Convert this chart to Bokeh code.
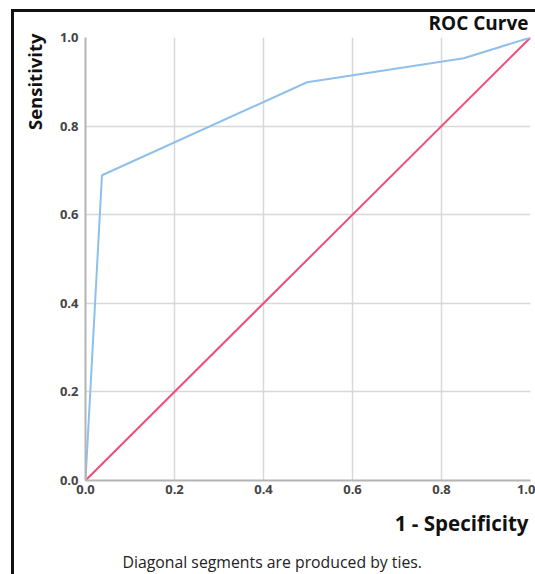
from bokeh.plotting import figure
from bokeh.models import Range1d, FixedTicker, Title, InlineStyleSheet
from bokeh.embed import file_html
from bokeh.resources import INLINE

# data
fpr = [0.0, 0.037, 0.498, 0.85, 1.0]
tpr = [0.0, 0.689, 0.899, 0.953, 1.0]
ref_x = [0.0, 1.0]
ref_y = [0.0, 1.0]
ticks = [0.0, 0.2, 0.4, 0.6, 0.8, 1.0]
tick_labels = ["0.0", "0.2", "0.4", "0.6", "0.8", "1.0"]
title_text = "ROC Curve"
x_title = "1 - Specificity"
y_title = "Sensitivity"
footnote = "Diagonal segments are produced by ties."

FONT = "Open Sans"

frame_css = InlineStyleSheet(css="""
:host { position: relative; }
:host::after { content: ''; position: absolute; left: 11px; top: 9px; right: -20px; bottom: -20px;
  border-left: 3px solid #111; border-top: 3px solid #111; pointer-events: none; }
""")

p = figure(width=535, height=574, output_backend="svg", toolbar_location=None,
           x_range=Range1d(0, 1), y_range=Range1d(0, 1),
           min_border_left=85, min_border_right=5, min_border_top=37, min_border_bottom=93,
           stylesheets=[frame_css])
p.background_fill_color = "white"
p.border_fill_color = "white"
p.outline_line_color = None

for ax in (p.xaxis, p.yaxis):
    ax.ticker = FixedTicker(ticks=ticks)
    ax.major_label_overrides = {t: l for t, l in zip(ticks, tick_labels)}
    ax.major_tick_in = 0
    ax.major_tick_out = 0
    ax.minor_tick_in = 0
    ax.minor_tick_out = 0
    ax.axis_line_color = "#b4b4b4"
    ax.axis_line_width = 2
    ax.major_label_text_font = FONT
    ax.major_label_text_font_size = "13px"
    ax.major_label_text_font_style = "bold"
    ax.major_label_text_color = "#444444"
p.xaxis.major_label_standoff = 4
p.yaxis.major_label_standoff = 7

for g in (p.xgrid, p.ygrid):
    g.ticker = FixedTicker(ticks=ticks)
    g.grid_line_color = "#d8d8d8"
    g.grid_line_width = 1.5

p.line(ref_x, ref_y, line_color="#ee4f78", line_width=2)
p.line(fpr, tpr, line_color="#8fc0ec", line_width=2)

p.add_layout(Title(text=title_text, align="right", offset=2, standoff=4,
                   text_font=FONT, text_font_size="19px", text_font_style="bold",
                   text_color="#111111"), "above")
p.add_layout(Title(text=y_title, align="right", offset=-4, standoff=19,
                   text_font=FONT, text_font_size="18.5px", text_font_style="bold",
                   text_color="#111111"), "left")
p.add_layout(Title(text=x_title, align="right", offset=2, standoff=20,
                   text_font=FONT, text_font_size="20.5px", text_font_style="bold",
                   text_color="#111111"), "below")
p.add_layout(Title(text=footnote, align="left", offset=37, standoff=4,
                   text_font=FONT, text_font_size="15.8px", text_font_style="normal",
                   text_color="#222222"), "below")

open("out.html", "w").write(file_html(p, INLINE))
